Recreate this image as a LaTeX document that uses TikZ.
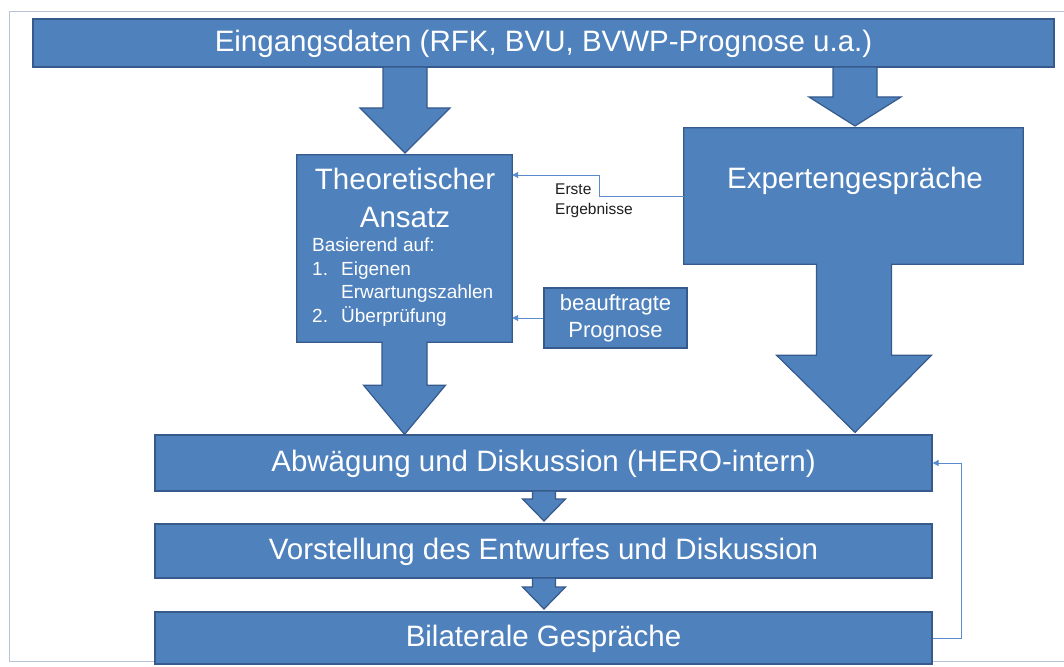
\documentclass[tikz,border=0pt]{standalone}
\usepackage{fontspec}
\setmainfont{Liberation Sans}
\usetikzlibrary{calc,arrows.meta}
\definecolor{boxfill}{RGB}{79,129,189}
\definecolor{boxline}{RGB}{54,90,140}
\definecolor{connc}{RGB}{90,140,205}
\definecolor{framec}{RGB}{185,195,215}
\tikzset{
  box/.style={fill=boxfill,draw=boxline,line width=1.2pt,inner sep=0pt,text=white,
              font=\fontsize{29.5}{37}\selectfont,text height=21pt,text depth=4pt},
  boxshape/.style={draw=none,inner sep=0pt},
  callout/.style={fill=boxfill,draw=boxline,line width=1.2pt,line join=miter},
  blockarrow/.style={fill=boxfill,draw=boxline,line width=1.2pt,line join=miter},
  wtext/.style={text=white,inner sep=0pt},
  conn/.style={draw=connc,line width=0.9pt},
  conntip/.style={-{Triangle[length=6pt,width=6pt]}},
}
\newcommand\barrow[6]{%
  \path[blockarrow] (#1-#5,#2) -- (#1+#5,#2) -- (#1+#5,#3) -- (#1+#6,#3) -- (#1,#4)
     -- (#1-#6,#3) -- (#1-#5,#3) -- cycle;}
\begin{document}
\begin{tikzpicture}[x=1pt,y=-1pt]
\useasboundingbox (0,0) rectangle (1064,666);
\fill[white] (0,0) rectangle (1064,666);
% outer frame
\draw[framec,line width=1pt] (1064,12) -- (9,12) -- (9,661) -- (1064,661);

% boxes (shapes only for callouts)
\node[box,minimum width=1021pt,minimum height=48pt] (top) at (543.5,43)
  {Eingangsdaten (RFK, BVU, BVWP-Prognose u.a.)};
\node[boxshape,minimum width=215pt,minimum height=187pt] (theo) at (404.5,248.5) {};
\node[boxshape,minimum width=339pt,minimum height=136pt] (exp) at (853.5,196) {};
\node[box,minimum width=777pt,minimum height=56pt] (abw) at (543.5,463)
  {Abw\"agung und Diskussion (HERO-intern)};
\node[box,minimum width=777pt,minimum height=54pt] (vor) at (543.5,551)
  {Vorstellung des Entwurfes und Diskussion};
\node[box,minimum width=777pt,minimum height=52pt] (bil) at (543.5,638)
  {Bilaterale Gespr\"ache};
\node[box,minimum width=143pt,minimum height=60pt,align=center,text height=,text depth=,
      font=\fontsize{22}{27}\selectfont] (beauf) at (615.5,318)
  {beauftragte\\Prognose};

% block arrows from top box
\barrow{405}{67}{108}{153}{22}{45}
\barrow{855}{67}{97}{126}{22}{46}

% callout: Theoretischer Ansatz
\path[callout] (theo.north west) -- (theo.north east) -- (theo.south east)
  -- ($(theo.south)+(22.5,0)$) -- ($(theo.south)+(22.5,43)$) -- ($(theo.south)+(41,43)$)
  -- (theo.south |- abw.north) -- ($(theo.south)+(-41,43)$) -- ($(theo.south)+(-22.5,43)$)
  -- ($(theo.south)+(-22.5,0)$) -- (theo.south west) -- cycle;
% callout: Expertengespraeche
\path[callout] (exp.north west) -- (exp.north east) -- (exp.south east)
  -- ($(exp.south)+(38,0)$) -- ($(exp.south)+(38,91)$) -- ($(exp.south)+(78,91)$)
  -- ($(exp.south |- abw.north)+(1.5,-2)$) -- ($(exp.south)+(-77,91)$) -- ($(exp.south)+(-37,91)$)
  -- ($(exp.south)+(-37,0)$) -- (exp.south west) -- cycle;

% small arrows between the lower boxes
\barrow{544}{491}{499}{521}{11.5}{21.5}
\barrow{544}{578}{587}{609}{11.5}{21.5}

% texts in callouts
\node[wtext,align=center,font=\fontsize{29.5}{38}\selectfont] (theoT) at (405,197.5)
  {Theoretischer\\Ansatz};
\node[wtext,align=left,anchor=west,font=\fontsize{19}{23.4}\selectfont] (theoL) at (312,282)
  {Basierend auf:\\\makebox[29pt][l]{1.}Eigenen\\\hspace*{29pt}Erwartungszahlen\\\makebox[29pt][l]{2.}\"Uberpr\"ufung};
\node[wtext,font=\fontsize{29.5}{37}\selectfont] (expT) at (855,181) {Expertengespr\"ache};

% thin connectors
\coordinate (bend) at (599,175);
\draw[conn,conntip] (exp.west) -| (bend) -- (bend -| theo.east);
\draw[conn,conntip] (beauf.west) -- (beauf.west -| theo.east);
\draw[conn,conntip] (bil.east) -- ++(29,0) |- (abw.east);

\node[anchor=west,align=left,inner sep=0pt,text={rgb,255:red,30;green,30;blue,30},
      font=\fontsize{15.5}{20}\selectfont] (erste) at (555,201) {Erste\\Ergebnisse};
\end{tikzpicture}
\end{document}
